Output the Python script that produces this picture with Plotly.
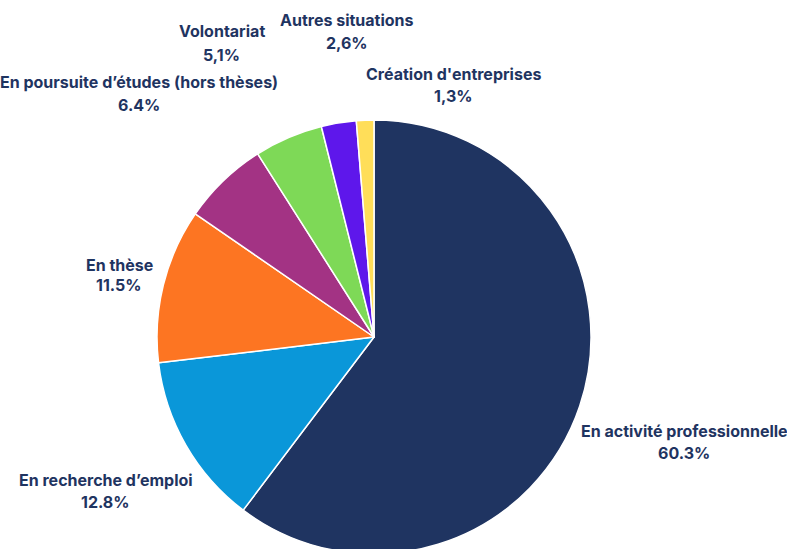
import plotly.graph_objects as go

labels = ["En activité professionnelle", "En recherche d’emploi", "En thèse",
          "En poursuite d’études (hors thèses)", "Volontariat",
          "Autres situations", "Création d'entreprises"]
values = [60.3, 12.8, 11.5, 6.4, 5.1, 2.6, 1.3]
value_text = ["60.3%", "12.8%", "11.5%", "6.4%", "5,1%", "2,6%", "1,3%"]
colors = ["#1f3461", "#0a97d9", "#fd7522", "#a33384", "#7ed957", "#5e17eb", "#ffde59"]

# label placement in pixels: (center x, name center y, value center y)
label_pos = [(684, 431, 453), (106, 480, 502), (119, 265, 285), (139, 82, 105),
             (222, 31, 55), (347, 20, 43), (453, 74, 96)]

W, H = 787, 560
CX, CY, R = 374, 337, 217
fig = go.Figure(go.Pie(
    labels=labels, values=values, sort=False, direction="clockwise", rotation=0,
    marker=dict(colors=colors, line=dict(color="white", width=1.5)),
    textinfo="none", hoverinfo="label+percent",
    domain=dict(x=[(CX - R) / W, (CX + R) / W], y=[(H - CY - R) / H, (H - CY + R) / H]),
    showlegend=False,
))

font = dict(family="Inter", size=16, color="#1f3461")
for lab, vt, (px, py1, py2) in zip(labels, value_text, label_pos):
    fig.add_annotation(x=px / W, y=1 - py1 / H, xref="paper", yref="paper",
                       text=f"<b>{lab}</b>", showarrow=False,
                       xanchor="center", yanchor="middle", font=font)
    fig.add_annotation(x=px / W, y=1 - py2 / H, xref="paper", yref="paper",
                       text=f"<b>{vt}</b>", showarrow=False,
                       xanchor="center", yanchor="middle", font=font)

fig.update_layout(width=W, height=H, margin=dict(l=0, r=0, t=0, b=0),
                  paper_bgcolor="white", plot_bgcolor="white")
fig.write_html("out.html", config={"displayModeBar": False},
               post_script="document.body.style.margin='0';document.body.style.overflow='hidden';")
